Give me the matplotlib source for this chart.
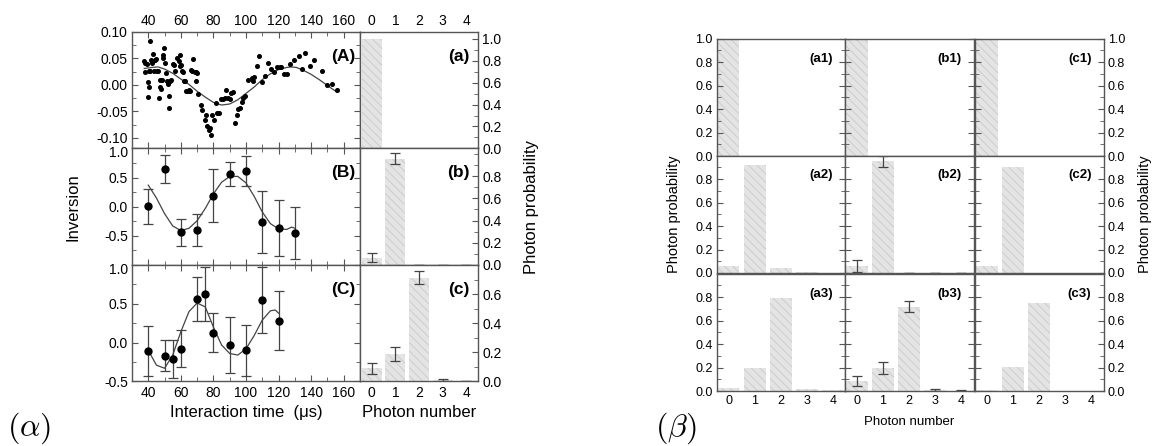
import matplotlib
matplotlib.use("Agg")
import matplotlib.pyplot as plt
import matplotlib.transforms as mtransforms
from matplotlib.ticker import MultipleLocator, FormatStrFormatter

plt.rcParams["font.family"] = ["Liberation Sans", "DejaVu Sans"]
plt.rcParams["mathtext.fontset"] = "cm"
plt.rcParams["hatch.linewidth"] = 0.7

# ---- (alpha) panel A: raw inversion points + fit
a_time = [41.2, 37.5, 37.9, 37.7, 39.0, 39.6, 40.2, 40.0, 40.6, 41.0, 41.6, 42.1, 42.7, 43.1,
          43.7, 44.3, 44.7, 45.2, 45.8, 46.8, 47.2, 47.8, 47.4, 48.2, 48.9, 49.3, 49.9, 50.5,
          50.9, 51.5, 52.0, 52.4, 53.0, 52.6, 53.4, 54.2, 55.1, 55.7, 56.7, 57.7, 58.6, 59.2,
          59.6, 60.2, 60.6, 61.2, 61.9, 62.7, 63.3, 64.3, 64.9, 65.4, 66.4, 67.0, 67.4, 68.5,
          69.1, 69.5, 70.1, 70.5, 72.2, 73.0, 74.6, 75.7, 76.3, 77.3, 78.1, 78.8, 79.4, 80.2,
          81.4, 82.5, 83.5, 84.9, 86.0, 87.0, 88.0, 89.1, 90.1, 91.1, 92.2, 93.2, 94.2, 95.3,
          96.3, 97.3, 98.4, 99.4, 101.4, 103.5, 104.5, 104.9, 106.6, 108.2, 109.7, 111.8,
          113.8, 115.3, 117.5, 119.0, 120.6, 121.6, 123.1, 125.2, 127.2, 129.7, 132.4, 134.4,
          136.5, 139.2, 141.6, 146.8, 149.5, 152.8, 155.7]
a_inv = [0.083, 0.045, 0.041, 0.024, 0.039, -0.023, -0.003, 0.006, 0.026, 0.027, 0.048, 0.042,
         0.059, 0.045, 0.026, 0.047, 0.049, 0.026, 0.027, -0.025, -0.004, -0.008, 0.010, 0.010,
         0.056, 0.051, 0.069, 0.042, 0.023, 0.007, 0.004, 0.001, -0.021, -0.044, 0.008, 0.009,
         0.039, 0.037, 0.026, 0.050, 0.045, 0.056, 0.035, 0.037, 0.027, 0.024, 0.008, 0.007,
         -0.012, -0.012, -0.009, -0.012, 0.028, 0.026, 0.049, 0.024, 0.007, 0.024, 0.023,
         -0.018, -0.037, -0.047, -0.066, -0.057, -0.078, -0.085, -0.081, -0.094, -0.057,
         -0.066, -0.034, -0.053, -0.053, -0.027, -0.027, -0.025, -0.010, -0.025, -0.026,
         -0.015, -0.013, -0.072, -0.057, -0.045, -0.044, -0.032, -0.025, -0.021, 0.010, 0.013,
         0.008, 0.015, 0.035, 0.054, 0.006, 0.016, 0.042, 0.031, 0.025, 0.033, 0.033, 0.033,
         0.020, 0.021, 0.040, 0.048, 0.054, 0.031, 0.061, 0.035, 0.048, 0.026, -0.001, 0.002,
         -0.010]
a_fit_time = [37.5, 42, 46, 50, 55, 60, 65, 70, 75, 80, 85, 90, 95, 100, 105, 110, 115, 120,
              125, 128, 131, 135, 140, 145, 150, 156]
a_fit_inv = [0.031, 0.033, 0.034, 0.030, 0.022, 0.011, 0.001, -0.012, -0.023, -0.033, -0.038,
             -0.036, -0.028, -0.016, -0.004, 0.010, 0.021, 0.029, 0.033, 0.034, 0.033, 0.028,
             0.020, 0.010, -0.001, -0.014]

# ---- (alpha) panel B
b_time = [40, 50, 60, 70, 80, 90, 100, 110, 120, 130]
b_inv = [0.01, 0.64, -0.44, -0.40, 0.19, 0.56, 0.61, -0.26, -0.37, -0.45]
b_err = [0.30, 0.24, 0.23, 0.27, 0.46, 0.20, 0.26, 0.53, 0.48, 0.44]
b_fit_time = [40, 45, 50, 55, 60, 65, 70, 75, 80, 85, 90, 95, 100, 105, 110, 115, 120, 125,
              128, 130]
b_fit_inv = [0.37, 0.15, -0.12, -0.33, -0.41, -0.37, -0.24, -0.03, 0.22, 0.42, 0.52, 0.52,
             0.41, 0.18, -0.09, -0.29, -0.38, -0.39, -0.35, -0.37]

# ---- (alpha) panel C
c_time = [40, 50, 55, 60, 70, 75, 80, 90, 100, 110, 120]
c_inv = [-0.11, -0.17, -0.21, -0.08, 0.56, 0.63, 0.13, -0.035, -0.10, 0.55, 0.28]
c_err = [0.32, 0.20, 0.24, 0.24, 0.28, 0.35, 0.25, 0.36, 0.33, 0.43, 0.38]
c_fit_time = [40, 45, 50, 55, 60, 65, 70, 75, 80, 85, 90, 95, 100, 105, 110, 115, 118, 120]
c_fit_inv = [-0.10, -0.29, -0.33, -0.16, 0.14, 0.40, 0.51, 0.46, 0.20, -0.03, -0.14, -0.16,
             -0.08, 0.09, 0.29, 0.41, 0.42, 0.38]

# ---- photon number distributions
photon_n = [0, 1, 2, 3, 4]
prob_a = [1.0, 0, 0, 0, 0]
prob_b = [0.066, 0.958, 0, 0, 0]
err_b = [0.04, 0.05, 0, 0, 0]
prob_c = [0.09, 0.19, 0.713, 0.01, 0.003]
err_c = [0.037, 0.05, 0.047, 0.008, 0.003]

# (beta) grid: rows 1..3, columns a, b, c
prob_a1 = [1.0, 0.003, 0.003, 0.003, 0.003]
prob_b1 = [1.0, 0.003, 0.003, 0.003, 0.003]
prob_c1 = [1.0, 0.003, 0.003, 0.003, 0.003]
prob_a2 = [0.063, 0.923, 0.04, 0.011, 0.003]
prob_b2 = [0.057, 0.95, 0, 0, 0]
err_b2 = [0.05, 0.05, 0, 0, 0]
prob_c2 = [0.063, 0.906, 0.003, 0.003, 0.003]
prob_a3 = [0.026, 0.197, 0.794, 0.017, 0.005]
prob_b3 = [0.086, 0.197, 0.717, 0.011, 0.003]
err_b3 = [0.04, 0.05, 0.048, 0.01, 0.003]
prob_c3 = [0.011, 0.206, 0.749, 0.003, 0.002]

spine_col = "#555555"
bar_face = "#e4e4e4"
bar_hatch = "#cdcdcd"

fig = plt.figure(figsize=(11.57, 4.46), dpi=100)


def style(ax, size):
    for s in ax.spines.values():
        s.set_color(spine_col)
        s.set_linewidth(1.0)
    ax.tick_params(which="both", direction="in", color=spine_col, labelsize=size, pad=3)
    ax.tick_params(which="major", length=4)
    ax.tick_params(which="minor", length=3)


def bars(ax, probs, errs=None, width=0.85):
    ax.bar(photon_n, probs, width=width, color=bar_face, edgecolor=bar_hatch,
           hatch="\\\\\\\\", linewidth=0)
    if errs is not None:
        ax.errorbar(photon_n, probs, yerr=errs, fmt="none", ecolor="#444444",
                    elinewidth=0.9, capsize=3.5, capthick=0.9)


# ---------------- (alpha) ----------------
left_x, left_w = 0.1141, 0.197
bar_x, bar_w = 0.3111, 0.102
row_h = 0.2612
row_y = [0.6671, 0.4059, 0.1447]

inv_data = [
    (a_time, a_inv, None, a_fit_time, a_fit_inv, "(A)", (-0.12, 0.10)),
    (b_time, b_inv, b_err, b_fit_time, b_fit_inv, "(B)", (-1.0, 1.0)),
    (c_time, c_inv, c_err, c_fit_time, c_fit_inv, "(C)", (-0.5, 1.0)),
]
bar_data = [(prob_a, None, "(a)", 1.06, 1.0), (prob_b, err_b, "(b)", 1.05, 0.8),
            (prob_c, err_c, "(c)", 0.80, 0.6)]

nudge_down = mtransforms.ScaledTranslation(0, -2.5 / 72, fig.dpi_scale_trans)

for i in range(3):
    t, v, e, ft, fv, lab, yl = inv_data[i]
    ax = fig.add_axes([left_x, row_y[i], left_w, row_h])
    style(ax, 10)
    ax.plot(ft, fv, color="#444444", lw=0.9, zorder=2)
    if e is None:
        ax.plot(t, v, "o", color="black", ms=2.6, zorder=3)
    else:
        ax.errorbar(t, v, yerr=e, fmt="o", color="black", ms=5, ecolor="#444444",
                    elinewidth=0.9, capsize=3.5, capthick=0.9, zorder=3)
    ax.set_xlim(30, 170)
    ax.set_ylim(*yl)
    ax.xaxis.set_major_locator(MultipleLocator(20))
    ax.xaxis.set_minor_locator(MultipleLocator(10))
    ax.tick_params(which="both", top=True, right=True,
                   labeltop=(i == 0), labelbottom=(i == 2))
    if i == 0:
        ax.yaxis.set_major_locator(MultipleLocator(0.05))
        ax.yaxis.set_minor_locator(MultipleLocator(0.025))
        ax.yaxis.set_major_formatter(FormatStrFormatter("%.2f"))
    else:
        ax.set_yticks([-0.5, 0.0, 0.5, 1.0])
        ax.yaxis.set_minor_locator(MultipleLocator(0.25))
        ax.yaxis.set_major_formatter(FormatStrFormatter("%.1f"))
        top_label = ax.get_yticklabels()[-1]
        top_label.set_transform(top_label.get_transform() + nudge_down)
    ax.text(0.978, 0.79, lab, transform=ax.transAxes, ha="right", va="center",
            fontsize=12.5, fontweight="bold")
    if i == 1:
        ax.set_ylabel("Inversion", fontsize=12, labelpad=17)
    if i == 2:
        ax.set_xlabel("Interaction time  (\u03bcs)", fontsize=12, labelpad=4)

    probs, errs, blab, ytop, ymaxlab = bar_data[i]
    bx = fig.add_axes([bar_x, row_y[i], bar_w, row_h])
    style(bx, 10)
    bars(bx, probs, errs)
    bx.set_xlim(-0.5, 4.5)
    bx.set_ylim(0, ytop)
    bx.set_xticks(photon_n)
    bx.set_yticks([k * 0.2 for k in range(int(round(ymaxlab / 0.2)) + 1)])
    bx.yaxis.set_minor_locator(MultipleLocator(0.1))
    bx.yaxis.set_major_formatter(FormatStrFormatter("%.1f"))
    bx.tick_params(axis="y", which="both", left=False, right=True,
                   labelleft=False, labelright=True)
    bx.tick_params(axis="x", length=0, labeltop=(i == 0), labelbottom=(i == 2))
    bx.text(0.93, 0.79, blab, transform=bx.transAxes, ha="right", va="center",
            fontsize=12.5, fontweight="bold")
    if i == 1:
        bx.yaxis.set_label_position("right")
        bx.set_ylabel("Photon probability", fontsize=12, labelpad=16)
    if i == 2:
        bx.set_xlabel("Photon number", fontsize=12, labelpad=4)

fig.text(0.006, 0.04, r"$(\alpha)$", fontsize=23, va="center", ha="left")

# ---------------- (beta) ----------------
col_x = [0.6195, 0.7303, 0.8427]
col_w = 0.1112
beta_y = [0.6502, 0.3879, 0.1233]
beta_h = 0.2634
beta_probs = [[prob_a1, prob_b1, prob_c1],
              [prob_a2, prob_b2, prob_c2],
              [prob_a3, prob_b3, prob_c3]]
beta_errs = [[None, None, None], [None, err_b2, None], [None, err_b3, None]]
beta_labels = [["(a1)", "(b1)", "(c1)"], ["(a2)", "(b2)", "(c2)"], ["(a3)", "(b3)", "(c3)"]]

for r in range(3):
    for c in range(3):
        ax = fig.add_axes([col_x[c], beta_y[r], col_w, beta_h])
        style(ax, 9)
        bars(ax, beta_probs[r][c], beta_errs[r][c], width=0.83)
        ax.set_xlim(-0.45, 4.47)
        ax.set_ylim(0, 1.0)
        ax.set_xticks(photon_n)
        ax.set_yticks([0, 0.2, 0.4, 0.6, 0.8, 1.0] if r == 0 else [0, 0.2, 0.4, 0.6, 0.8])
        ax.yaxis.set_minor_locator(MultipleLocator(0.1))
        ax.yaxis.set_major_formatter(FormatStrFormatter("%.1f"))
        ax.tick_params(axis="y", which="both", left=True, right=True,
                       labelleft=(c == 0), labelright=(c == 2))
        ax.tick_params(axis="x", length=0, labelbottom=(r == 2))
        ax.text(0.905, 0.83, beta_labels[r][c], transform=ax.transAxes, ha="right",
                va="center", fontsize=9.5, fontweight="bold")
        if r == 1 and c == 0:
            ax.set_ylabel("Photon probability", fontsize=10.5, labelpad=10)
        if r == 1 and c == 2:
            ax.yaxis.set_label_position("right")
            ax.set_ylabel("Photon probability", fontsize=10.5, labelpad=9)
        if r == 2 and c == 1:
            ax.set_xlabel("Photon number", fontsize=9.5, labelpad=6)

fig.text(0.566, 0.04, r"$(\beta)$", fontsize=23, va="center", ha="left")

fig.savefig("out.png", dpi=100)
